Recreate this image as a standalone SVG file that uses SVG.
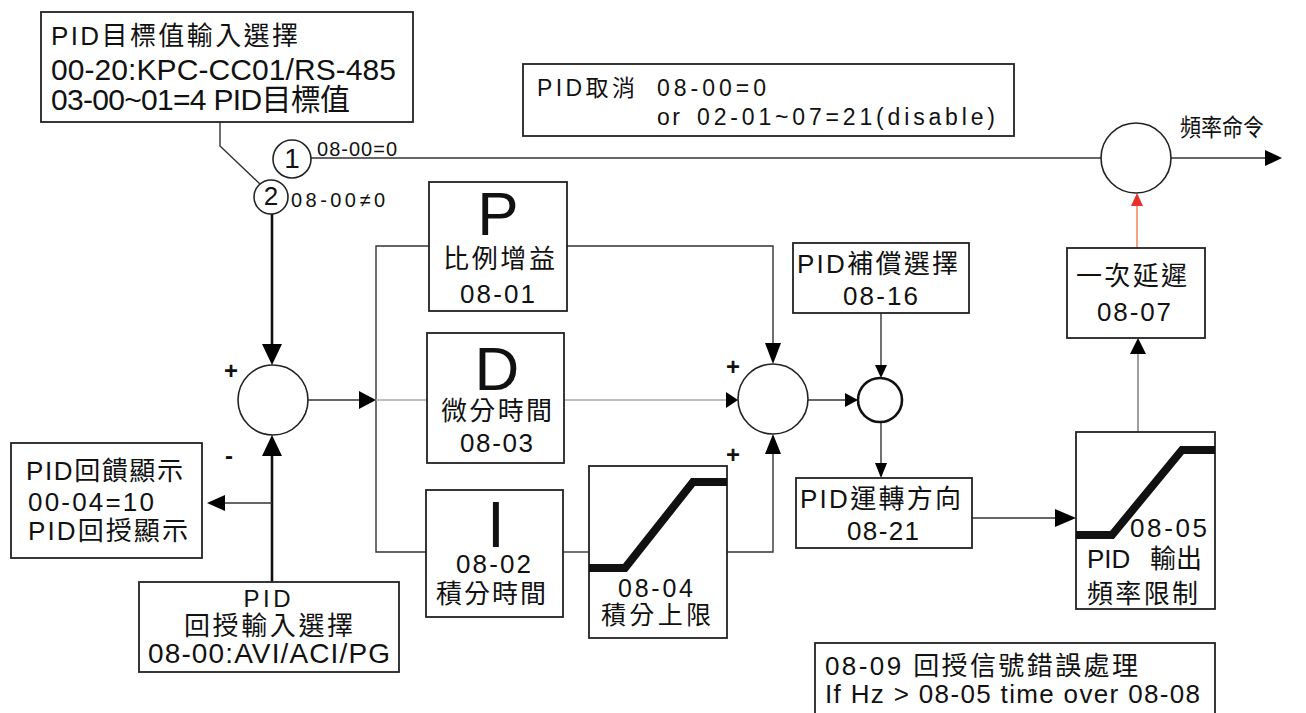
<svg xmlns="http://www.w3.org/2000/svg" width="1306" height="713" viewBox="0 0 1306 713">
<style>
text{font-family:"Liberation Sans","Noto Sans CJK TC",sans-serif;fill:#111}
.box{fill:#fff;stroke:#222;stroke-width:1.8}
.circ{fill:#fff;stroke:#222;stroke-width:1.6}
.ln{fill:none;stroke:#333;stroke-width:1.4}
.lg{fill:none;stroke:#aaa;stroke-width:1.4}
.lk{fill:none;stroke:#111;stroke-width:2.6}
.ah{fill:#000}
.thick{fill:none;stroke:#111;stroke-width:8;stroke-linejoin:miter}
.big{font-size:62px}
.f26{font-size:26px}
.f25{font-size:25px}
.f20{font-size:20px}
.sign{font-size:24px;font-weight:bold}
</style>
<defs>
<clipPath id="c04"><rect x="589" y="466" width="138" height="172"/></clipPath>
<clipPath id="c05"><rect x="1076" y="432" width="139" height="177"/></clipPath>
</defs>

<g id="connectors">
  <polyline class="ln" points="220,122 220,146 260,184"/>
  <line class="ln" x1="311" y1="158" x2="1101" y2="158"/>
  <line class="ln" x1="1171" y1="158" x2="1266" y2="158"/>
  <polygon class="ah" points="1282,158 1265,150 1265,166"/>
  <line x1="1137" y1="248" x2="1137" y2="205" stroke="#f4896b" stroke-width="1.6"/>
  <polygon points="1137,193 1131,206 1143,206" fill="#e8302a"/>
  <line x1="1138" y1="432" x2="1138" y2="353" stroke="#888" stroke-width="1.6"/>
  <polygon class="ah" points="1138,338 1130,354 1146,354"/>
  <line class="lk" x1="272" y1="214" x2="272" y2="345"/>
  <polygon class="ah" points="272,365 262,344 282,344"/>
  <line class="lk" x1="272" y1="582" x2="272" y2="455"/>
  <polygon class="ah" points="272,435 262,456 282,456"/>
  <line class="ln" x1="272" y1="503" x2="224" y2="503"/>
  <polygon class="ah" points="207,503 225,495 225,511"/>
  <line class="ln" x1="308" y1="400" x2="360" y2="400"/>
  <polygon class="ah" points="376,400 359,391 359,409"/>
  <polyline class="ln" points="429,246 376,246 376,552 426,552"/>
  <line class="ln" x1="563" y1="552" x2="589" y2="552"/>
  <line class="lg" x1="376" y1="400" x2="727" y2="400"/>
  <polygon class="ah" points="738,400 726,392 726,408"/>
  <polyline class="ln" points="567,246 773,246 773,344"/>
  <polygon class="ah" points="773,364 765,343 781,343"/>
  <polyline class="ln" points="727,552 773,552 773,454"/>
  <polygon class="ah" points="773,434 765,454 781,454"/>
  <line class="ln" x1="808" y1="400" x2="846" y2="400"/>
  <polygon class="ah" points="858,400 845,393 845,407"/>
  <line class="ln" x1="881" y1="313" x2="881" y2="366"/>
  <polygon class="ah" points="881,378 875,365 887,365"/>
  <line class="ln" x1="881" y1="422" x2="881" y2="464"/>
  <polygon class="ah" points="881,478 875,463 887,463"/>
  <line class="ln" x1="972" y1="518" x2="1056" y2="518"/>
  <polygon class="ah" points="1076,518 1055,509 1055,527"/>
</g>

<g id="target-select">
  <rect class="box" x="41" y="12" width="372" height="110"/>
  <text class="f26" x="51" y="45" textLength="247">PID目標值輸入選擇</text>
  <text x="51" y="80" font-size="30" textLength="345">00-20:KPC-CC01/RS-485</text>
  <text x="51" y="110" font-size="30" textLength="299">03-00~01=4 PID目標值</text>
</g>

<g id="switch1">
  <circle class="circ" cx="292" cy="159" r="19"/>
  <text x="292" y="168" font-size="28" text-anchor="middle">1</text>
  <text class="f20" x="317" y="156" textLength="80">08-00=0</text>
</g>
<g id="switch2">
  <circle class="circ" cx="271" cy="197" r="17"/>
  <text x="271" y="205" font-size="26" text-anchor="middle">2</text>
  <text class="f20" x="291" y="207" textLength="94">08-00≠0</text>
</g>

<g id="pid-cancel">
  <rect class="box" x="523" y="64" width="491" height="72"/>
  <text x="537" y="96" font-size="23" textLength="98">PID取消</text>
  <text x="657" y="96" font-size="23" textLength="109">08-00=0</text>
  <text x="657" y="125" font-size="23" textLength="23">or</text>
  <text x="697" y="125" font-size="23" textLength="298">02-01~07=21(disable)</text>
</g>

<g id="freq-sum">
  <circle class="circ" cx="1136" cy="158" r="35"/>
  <text x="1180" y="136" font-size="24" textLength="84" lengthAdjust="spacingAndGlyphs">頻率命令</text>
</g>

<g id="sum-left">
  <circle class="circ" cx="273" cy="400" r="35"/>
  <text class="sign" x="231" y="379" text-anchor="middle">+</text>
  <text class="sign" x="229" y="464" text-anchor="middle">-</text>
</g>

<g id="feedback-display">
  <rect class="box" x="11" y="443" width="191" height="115"/>
  <text class="f26" x="26" y="480" textLength="157">PID回饋顯示</text>
  <text class="f26" x="28" y="511" textLength="126">00-04=10</text>
  <text class="f26" x="28" y="540" textLength="160">PID回授顯示</text>
</g>

<g id="feedback-select">
  <rect class="box" x="139" y="582" width="260" height="90"/>
  <text x="267" y="607" font-size="24" text-anchor="middle" textLength="47">PID</text>
  <text class="f26" x="184" y="635" textLength="169">回授輸入選擇</text>
  <text x="148" y="663" font-size="28" textLength="242">08-00:AVI/ACI/PG</text>
</g>

<g id="p-gain">
  <rect class="box" x="429" y="182" width="138" height="129"/>
  <text class="big" x="498" y="235" text-anchor="middle">P</text>
  <text class="f26" x="443" y="268" textLength="112">比例增益</text>
  <text class="f26" x="460" y="303" textLength="75">08-01</text>
</g>

<g id="d-time">
  <rect class="box" x="427" y="333" width="137" height="130"/>
  <text class="big" x="497" y="390" text-anchor="middle">D</text>
  <text class="f26" x="441" y="420" textLength="111">微分時間</text>
  <text class="f26" x="460" y="452" textLength="73">08-03</text>
</g>

<g id="i-time">
  <rect class="box" x="426" y="490" width="137" height="127"/>
  <text x="496" y="547" font-size="64" text-anchor="middle">I</text>
  <text class="f26" x="456" y="573" textLength="75">08-02</text>
  <text class="f26" x="436" y="603" textLength="110">積分時間</text>
</g>

<g id="i-limit">
  <rect class="box" x="589" y="466" width="138" height="172"/>
  <polyline class="thick" clip-path="url(#c04)" points="585,568 625,568 693,482 732,482"/>
  <text class="f25" x="618" y="597" textLength="75">08-04</text>
  <text class="f25" x="601" y="624" textLength="110">積分上限</text>
  <text class="sign" x="733" y="463" text-anchor="middle">+</text>
</g>

<g id="sum-right">
  <circle class="circ" cx="773" cy="399" r="35"/>
  <text class="sign" x="733" y="375" text-anchor="middle">+</text>
</g>

<g id="comp-select">
  <rect class="box" x="793" y="243" width="176" height="70"/>
  <text class="f26" x="797" y="273" textLength="161">PID補償選擇</text>
  <text class="f26" x="843" y="305" textLength="75">08-16</text>
</g>

<g id="comp-sum">
  <circle cx="880" cy="400" r="22" fill="#fff" stroke="#111" stroke-width="2.6"/>
</g>

<g id="direction">
  <rect class="box" x="796" y="478" width="176" height="70"/>
  <text class="f26" x="800" y="508" textLength="161">PID運轉方向</text>
  <text class="f26" x="847" y="540" textLength="72">08-21</text>
</g>

<g id="output-limit">
  <rect class="box" x="1076" y="432" width="139" height="177"/>
  <polyline class="thick" clip-path="url(#c05)" points="1072,535 1112,535 1182,450 1220,450"/>
  <text class="f26" x="1130" y="537" textLength="77">08-05</text>
  <text class="f26" x="1087" y="568">PID</text>
  <text class="f26" x="1150" y="568" textLength="52">輸出</text>
  <text class="f26" x="1087" y="603" textLength="111">頻率限制</text>
</g>

<g id="delay">
  <rect class="box" x="1067" y="248" width="138" height="90"/>
  <text class="f26" x="1076" y="285" textLength="111">一次延遲</text>
  <text class="f26" x="1097" y="321" textLength="74">08-07</text>
</g>

<g id="error-handling">
  <rect class="box" x="815" y="643" width="400" height="80"/>
  <text class="f26" x="825" y="675" textLength="313">08-09 回授信號錯誤處理</text>
  <text class="f26" x="825" y="703" textLength="375">If Hz &gt; 08-05 time over 08-08</text>
</g>
</svg>
